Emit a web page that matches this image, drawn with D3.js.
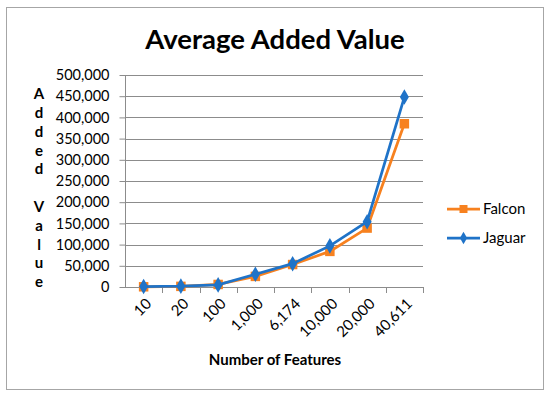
<!DOCTYPE html>
<html>
<head>
<meta charset="utf-8">
<script src="https://cdnjs.cloudflare.com/ajax/libs/d3/7.8.5/d3.min.js"></script>
<style>
  body { margin: 0; background: #fff; }
  text { font-family: Lato, "Open Sans", sans-serif; }
</style>
</head>
<body>
<script>
var categories = ['10', '20', '100', '1,000', '6,174', '10,000', '20,000', '40,611'];
var falcon = [500, 1500, 6000, 25000, 53000, 84000, 139000, 385000];
var jaguar = [1000, 2000, 5000, 30000, 55000, 97000, 154000, 448000];
var yTicks = [0, 50000, 100000, 150000, 200000, 250000, 300000, 350000, 400000, 450000, 500000];
var yLabel = ['A', 'd', 'd', 'e', 'd', '', 'V', 'a', 'l', 'u', 'e'];

var width = 550, height = 396;
var margin = { top: 75, right: 127, bottom: 109, left: 125 };

var svg = d3.select('body').append('svg')
  .attr('width', width)
  .attr('height', height);

// outer frame
svg.append('rect')
  .attr('x', 6.5).attr('y', 7.5)
  .attr('width', 537).attr('height', 382)
  .attr('fill', '#fff')
  .attr('stroke', '#a6a6a6')
  .attr('stroke-width', 1);

var x = d3.scaleBand()
  .domain(categories)
  .range([margin.left, width - margin.right]);

var y = d3.scaleLinear()
  .domain([0, 500000])
  .range([height - margin.bottom, margin.top]);

// gridlines
svg.append('g')
  .selectAll('line')
  .data(yTicks.slice(1))
  .enter()
  .append('line')
  .attr('x1', margin.left).attr('x2', width - margin.right)
  .attr('y1', function(d) { return Math.round(y(d)) + 0.5; })
  .attr('y2', function(d) { return Math.round(y(d)) + 0.5; })
  .attr('stroke', '#8c8c8c')
  .attr('stroke-width', 1);

// y axis
var yAxis = svg.append('g')
  .attr('transform', 'translate(' + (margin.left + 0.5) + ',0)')
  .call(d3.axisLeft(y).tickValues(yTicks).tickSize(6).tickPadding(10).tickFormat(d3.format(',')));
yAxis.selectAll('text').attr('font-size', 14.5).attr('fill', '#000');
yAxis.selectAll('line, path').attr('stroke', '#8c8c8c');
yAxis.select('.domain').attr('d', 'M0,' + y(500000) + 'V' + y(0));

// x axis
var xAxis = svg.append('g')
  .attr('transform', 'translate(0,' + (Math.round(y(0)) + 0.5) + ')')
  .call(d3.axisBottom(x).tickSize(0).tickFormat(''));
xAxis.selectAll('line, path').attr('stroke', '#8c8c8c');
xAxis.select('.domain').attr('d', 'M' + margin.left + ',0H' + (width - margin.right));

// tick marks between categories
svg.append('g')
  .selectAll('line')
  .data(categories)
  .enter()
  .append('line')
  .attr('x1', function(d) { return Math.round(x(d) + x.bandwidth()) + 0.5; })
  .attr('x2', function(d) { return Math.round(x(d) + x.bandwidth()) + 0.5; })
  .attr('y1', y(0)).attr('y2', y(0) + 6)
  .attr('stroke', '#8c8c8c');

// rotated category labels
svg.append('g')
  .selectAll('text')
  .data(categories)
  .enter()
  .append('text')
  .attr('transform', function(d) {
    return 'translate(' + (x(d) + x.bandwidth() / 2 + 5) + ',' + (y(0) + 14) + ') rotate(-45)';
  })
  .attr('text-anchor', 'end')
  .attr('dy', '0.35em')
  .attr('font-size', 15)
  .text(function(d) { return d; });

// lines
var line = d3.line()
  .x(function(d, i) { return x(categories[i]) + x.bandwidth() / 2; })
  .y(function(d) { return y(d); });

var series = [
  { name: 'Falcon', values: falcon, color: '#f7811f', shape: d3.symbolSquare, size: 90, legendSize: 64 },
  { name: 'Jaguar', values: jaguar, color: '#1f73c8', shape: d3.symbolDiamond, size: 70, legendSize: 45 }
];

series.forEach(function(s) {
  svg.append('path')
    .datum(s.values)
    .attr('d', line)
    .attr('fill', 'none')
    .attr('stroke', s.color)
    .attr('stroke-width', 2.75);

  svg.append('g')
    .selectAll('path')
    .data(s.values)
    .enter()
    .append('path')
    .attr('transform', function(d, i) {
      return 'translate(' + (x(categories[i]) + x.bandwidth() / 2) + ',' + y(d) + ')';
    })
    .attr('d', d3.symbol().type(s.shape).size(s.size))
    .attr('fill', s.color);
});

// legend
var legend = svg.append('g');
series.forEach(function(s, i) {
  var ly = 209 + i * 29;
  legend.append('line')
    .attr('x1', 447).attr('x2', 480)
    .attr('y1', ly).attr('y2', ly)
    .attr('stroke', s.color)
    .attr('stroke-width', 2.75);
  legend.append('path')
    .attr('transform', 'translate(463.5,' + ly + ')')
    .attr('d', d3.symbol().type(s.shape).size(s.legendSize))
    .attr('fill', s.color);
  legend.append('text')
    .attr('x', 483).attr('y', ly)
    .attr('dy', '0.35em')
    .attr('font-size', 15)
    .text(s.name);
});

// title
svg.append('text')
  .attr('x', 275).attr('y', 49)
  .attr('text-anchor', 'middle')
  .attr('font-size', 27.5)
  .attr('font-weight', 'bold')
  .text('Average Added Value');

// x title
svg.append('text')
  .attr('x', 275).attr('y', 365)
  .attr('text-anchor', 'middle')
  .attr('font-size', 15)
  .attr('font-weight', 'bold')
  .text('Number of Features');

// y title, stacked letters
svg.append('g')
  .selectAll('text')
  .data(yLabel)
  .enter()
  .append('text')
  .attr('x', 39)
  .attr('y', function(d, i) { return 94 + i * 18.8; })
  .attr('dy', '0.35em')
  .attr('text-anchor', 'middle')
  .attr('font-size', 15)
  .attr('font-weight', 'bold')
  .text(function(d) { return d; });
</script>
</body>
</html>
